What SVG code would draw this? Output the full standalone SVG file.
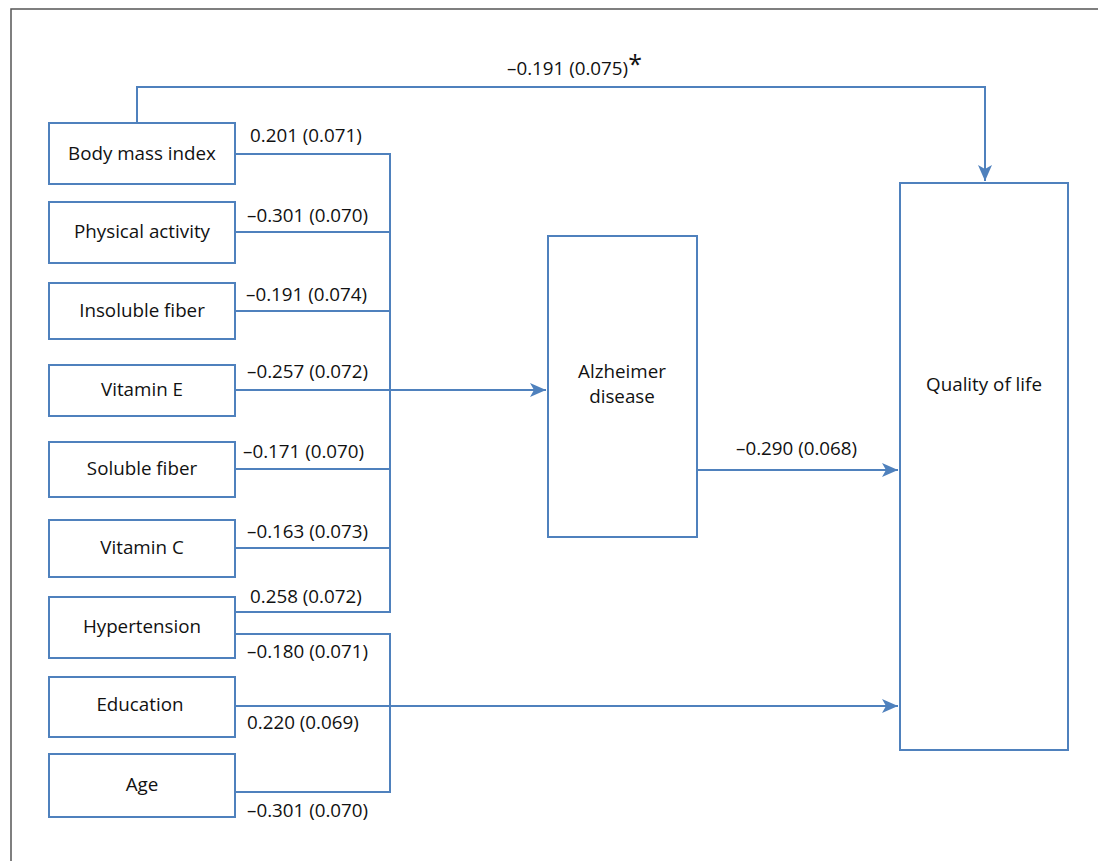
<svg xmlns="http://www.w3.org/2000/svg" width="1098" height="861" viewBox="0 0 1098 861">
<style>
.box{fill:#fff;stroke:#4F81BD;stroke-width:2}
.ln{fill:none;stroke:#4F81BD;stroke-width:2}
.t{font-family:"Open Sans","Noto Sans",sans-serif;font-size:18.8px;fill:#111}
.c{text-anchor:middle}
</style>
<defs>
<marker id="ah" markerUnits="userSpaceOnUse" markerWidth="18" markerHeight="16" refX="16" refY="7" orient="auto" viewBox="0 0 18 14">
<path d="M0,0 L16,7 L0,14 L4,7 Z" fill="#4F81BD"/>
</marker>
</defs>
<rect width="1098" height="861" fill="#fff"/>
<path d="M11,861 V9 H1098" fill="none" stroke="#555" stroke-width="1.5"/>

<g id="connectors">
<path class="ln" d="M137,123 V87 H985 V181" marker-end="url(#ah)"/>
<path class="ln" d="M235,154 H390 V612 H235"/>
<path class="ln" d="M235,232 H390"/>
<path class="ln" d="M235,311 H390"/>
<path class="ln" d="M235,469 H390"/>
<path class="ln" d="M235,548 H390"/>
<path class="ln" d="M235,390 H546" marker-end="url(#ah)"/>
<path class="ln" d="M697,470 H898" marker-end="url(#ah)"/>
<path class="ln" d="M235,634 H390 V792 H235"/>
<path class="ln" d="M235,706 H898" marker-end="url(#ah)"/>
<text class="t" x="507" y="75">–0.191 (0.075)<tspan font-size="25" dy="-2">*</tspan></text>
<text class="t" x="250" y="142">0.201 (0.071)</text>
<text class="t" x="247" y="222">–0.301 (0.070)</text>
<text class="t" x="246" y="301">–0.191 (0.074)</text>
<text class="t" x="247" y="378">–0.257 (0.072)</text>
<text class="t" x="243" y="458">–0.171 (0.070)</text>
<text class="t" x="247" y="538">–0.163 (0.073)</text>
<text class="t" x="250" y="603">0.258 (0.072)</text>
<text class="t" x="247" y="658">–0.180 (0.071)</text>
<text class="t" x="247" y="729">0.220 (0.069)</text>
<text class="t" x="247" y="817">–0.301 (0.070)</text>
<text class="t" x="736" y="455">–0.290 (0.068)</text>
</g>

<g id="bmi"><rect class="box" x="49" y="123" width="186" height="61"/><text class="t c" x="142" y="160">Body mass index</text></g>
<g id="physical-activity"><rect class="box" x="49" y="202" width="186" height="61"/><text class="t c" x="142" y="238">Physical activity</text></g>
<g id="insoluble-fiber"><rect class="box" x="49" y="283" width="186" height="56"/><text class="t c" x="142" y="317">Insoluble fiber</text></g>
<g id="vitamin-e"><rect class="box" x="49" y="365" width="186" height="51"/><text class="t c" x="142" y="396">Vitamin E</text></g>
<g id="soluble-fiber"><rect class="box" x="49" y="442" width="186" height="55"/><text class="t c" x="142" y="475">Soluble fiber</text></g>
<g id="vitamin-c"><rect class="box" x="49" y="520" width="186" height="57"/><text class="t c" x="142" y="554">Vitamin C</text></g>
<g id="hypertension"><rect class="box" x="49" y="597" width="186" height="61"/><text class="t c" x="142" y="633">Hypertension</text></g>
<g id="education"><rect class="box" x="49" y="677" width="186" height="60"/><text class="t c" x="140" y="711">Education</text></g>
<g id="age"><rect class="box" x="49" y="754" width="186" height="63"/><text class="t c" x="142" y="791">Age</text></g>
<g id="alzheimer"><rect class="box" x="548" y="236" width="149" height="301"/><text class="t c" x="622" y="378">Alzheimer</text><text class="t c" x="622" y="403">disease</text></g>
<g id="qol"><rect class="box" x="900" y="183" width="168" height="567"/><text class="t c" x="984" y="391">Quality of life</text></g>
</svg>
